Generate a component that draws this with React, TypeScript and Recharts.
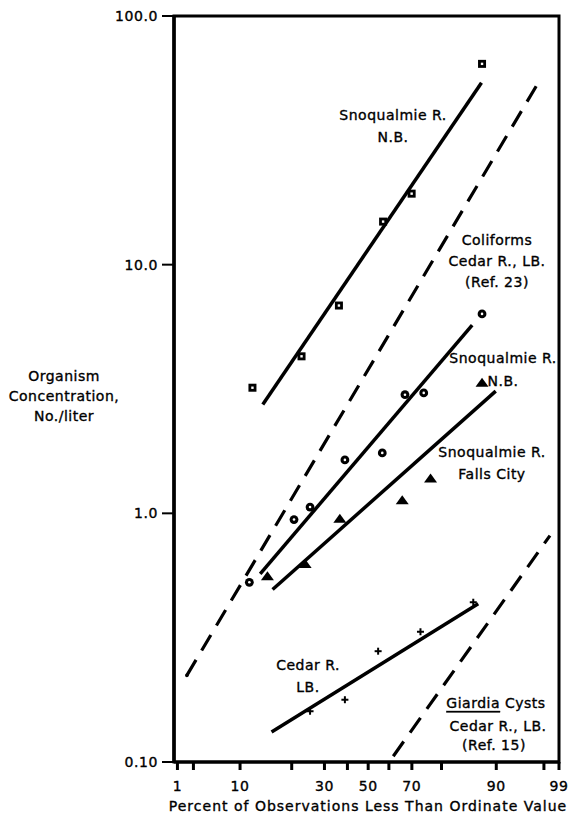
import React from 'react';
import { ComposedChart, Line, Scatter, XAxis, YAxis, ReferenceArea } from 'recharts';

// probability paper: percent ticks and where they sit along the axis (0..100 units)
const PROB_TICKS = [1, 2, 10, 20, 30, 40, 50, 60, 70, 80, 90, 98, 99];
const PROB_AXIS_POS = [0, 4.19, 16.41, 29.95, 38.53, 44.55, 49.99, 55.42, 61.44, 69.21, 83.56, 96.05, 100];
const PROB_LABELED = [1, 10, 30, 50, 70, 90, 99];

const CONC_TICKS = [0.1, 1, 10, 100];
const CONC_LABELS = ['0.10', '1.0', '10.0', '100.0'];

// Snoqualmie R. N.B. (squares)
const SQUARE_PCT = [12.4, 23.0, 36.3, 57.2, 69.9, 87.4];
const SQUARE_CONC = [3.2, 4.28, 6.85, 14.9, 19.3, 64.2];
const SQUARE_FIT_PCT = [14.4, 87.3];
const SQUARE_FIT_CONC = [2.74, 53.9];

// Snoqualmie R. N.B. (circles)
const CIRCLE_PCT = [11.8, 20.7, 25.6, 38.9, 56.8, 67.0, 74.0, 87.4];
const CIRCLE_CONC = [0.528, 0.944, 1.06, 1.64, 1.75, 3.0, 3.05, 6.34];
const CIRCLE_FIT_PCT = [13.9, 85.6];
const CIRCLE_FIT_CONC = [0.571, 5.71];

// Snoqualmie R. Falls City (triangles)
const TRIANGLE_PCT = [15.3, 24.1, 36.7, 65.8, 76.3, 87.4];
const TRIANGLE_CONC = [0.558, 0.626, 0.95, 1.13, 1.38, 3.35];
const TRIANGLE_FIT_PCT = [16.3, 89.9];
const TRIANGLE_FIT_CONC = [0.494, 3.1];

// Cedar R. LB. (crosses)
const CROSS_PCT = [25.6, 38.9, 54.8, 72.9, 85.8];
const CROSS_CONC = [0.16, 0.178, 0.279, 0.334, 0.439];
const CROSS_FIT_PCT = [16.1, 86.7];
const CROSS_FIT_CONC = [0.132, 0.433];

// dashed reference lines
const COLIFORM_PCT = [1.59, 96.7];
const COLIFORM_CONC = [0.223, 52.2];
const GIARDIA_PCT = [61.9, 98.4];
const GIARDIA_CONC = [0.1055, 0.814];

const FONT = '"DejaVu Sans", Verdana, sans-serif';

const probToAxis = (p: number) => {
  for (let i = 0; i < PROB_TICKS.length - 1; i++) {
    const a = PROB_TICKS[i];
    const b = PROB_TICKS[i + 1];
    if (p <= b || i === PROB_TICKS.length - 2) {
      const t = (p - a) / (b - a);
      return PROB_AXIS_POS[i] + t * (PROB_AXIS_POS[i + 1] - PROB_AXIS_POS[i]);
    }
  }
  return 0;
};

const toRows = (pct: number[], conc: number[]) =>
  pct.map((p, i) => ({ u: probToAxis(p), v: conc[i] }));

const SquareDot = (props: any) => {
  const { cx, cy } = props;
  return (
    <g>
      <rect x={cx - 4} y={cy - 4} width={8} height={8} fill="#000" />
      <rect x={cx - 1.2} y={cy - 1.2} width={2.4} height={2.4} fill="#fff" />
    </g>
  );
};

const CircleDot = (props: any) => {
  const { cx, cy } = props;
  return (
    <g>
      <circle cx={cx} cy={cy} r={4.4} fill="#000" />
      <circle cx={cx} cy={cy} r={1.3} fill="#fff" />
    </g>
  );
};

const TriangleDot = (props: any) => {
  const { cx, cy } = props;
  return <polygon points={`${cx},${cy - 5} ${cx - 6.5},${cy + 4} ${cx + 6.5},${cy + 4}`} fill="#000" />;
};

const CrossDot = (props: any) => {
  const { cx, cy } = props;
  return (
    <g stroke="#000" strokeWidth={2}>
      <line x1={cx - 3.5} y1={cy} x2={cx + 3.5} y2={cy} />
      <line x1={cx} y1={cy - 3.5} x2={cx} y2={cy + 3.5} />
    </g>
  );
};

const StartDot = (props: any) => {
  const { cx, cy, index } = props;
  if (index !== 0) return <g key={`d${index}`} />;
  return <circle key={`d${index}`} cx={cx} cy={cy} r={1.8} fill="#000" />;
};

const XTick = (props: any) => {
  const { x, y, payload } = props;
  const i = PROB_AXIS_POS.indexOf(payload.value);
  const pct = PROB_TICKS[i];
  return (
    <g>
      <line x1={x} y1={y} x2={x} y2={y + 8} stroke="#000" strokeWidth={3} />
      {PROB_LABELED.includes(pct) && (
        <text x={x} y={y + 24} textAnchor="middle" dominantBaseline="central"
          fontFamily={FONT} fontSize={14} letterSpacing={0.6} fill="#000" stroke="#000" strokeWidth={0.35}>
          {pct}
        </text>
      )}
    </g>
  );
};

const YTick = (props: any) => {
  const { x, y, payload } = props;
  const label = CONC_LABELS[CONC_TICKS.indexOf(payload.value)];
  return (
    <text x={x} y={y} textAnchor="end" dominantBaseline="central"
      fontFamily={FONT} fontSize={14} letterSpacing={0.6} fill="#000" stroke="#000" strokeWidth={0.35}>
      {label}
    </text>
  );
};

const NOTES = [
  { x: 385, y: 107, gap: 22, lines: ['Snoqualmie R.', 'N.B.'] },
  { x: 489, y: 232, gap: 21, lines: ['Coliforms', 'Cedar R., LB.', '(Ref. 23)'] },
  { x: 495, y: 350, gap: 23, lines: ['Snoqualmie R.', 'N.B.'] },
  { x: 484, y: 444, gap: 22, lines: ['Snoqualmie R.', 'Falls City'] },
  { x: 300, y: 657, gap: 22, lines: ['Cedar R.', 'LB.'] },
];

const W = 567;
const H = 809;

export default function App() {
  return (
    <div style={{ padding: '8px 0 0 8px' }}>
      <style>{'body{margin:0}'}</style>
      <div style={{ position: 'relative', width: W, height: H }}>
        <ComposedChart width={W} height={H} margin={{ top: 8, right: 16, bottom: 0, left: 0 }}>
          <XAxis
            type="number"
            dataKey="u"
            domain={[-0.9, 100]}
            ticks={PROB_AXIS_POS}
            interval={0}
            tickSize={0}
            tickMargin={0}
            tickLine={false}
            tick={<XTick />}
            height={55}
            allowDataOverflow
            axisLine={{ stroke: '#000', strokeWidth: 3 }}
          />
          <YAxis
            type="number"
            dataKey="v"
            scale="log"
            domain={[0.1, 100]}
            ticks={CONC_TICKS}
            interval={0}
            width={166}
            tickSize={12}
            tickMargin={4}
            tick={<YTick />}
            tickLine={{ stroke: '#000', strokeWidth: 2 }}
            allowDataOverflow
            axisLine={{ stroke: '#000', strokeWidth: 3.5 }}
          />
          <ReferenceArea x1={-0.9} x2={100} y1={0.1} y2={100} fill="none" stroke="#000" strokeWidth={3} ifOverflow="visible" />

          <Line data={toRows(COLIFORM_PCT, COLIFORM_CONC)} dataKey="v" type="linear" stroke="#000" strokeWidth={3.2}
            strokeDasharray="18 11" dot={<StartDot />} activeDot={false} isAnimationActive={false} />
          <Line data={toRows(GIARDIA_PCT, GIARDIA_CONC)} dataKey="v" type="linear" stroke="#000" strokeWidth={3.2}
            strokeDasharray="18 11" dot={false} activeDot={false} isAnimationActive={false} />

          <Line data={toRows(SQUARE_FIT_PCT, SQUARE_FIT_CONC)} dataKey="v" type="linear" stroke="#000" strokeWidth={3.5}
            dot={false} activeDot={false} isAnimationActive={false} />
          <Line data={toRows(CIRCLE_FIT_PCT, CIRCLE_FIT_CONC)} dataKey="v" type="linear" stroke="#000" strokeWidth={3.5}
            dot={false} activeDot={false} isAnimationActive={false} />
          <Line data={toRows(TRIANGLE_FIT_PCT, TRIANGLE_FIT_CONC)} dataKey="v" type="linear" stroke="#000" strokeWidth={3.5}
            dot={false} activeDot={false} isAnimationActive={false} />
          <Line data={toRows(CROSS_FIT_PCT, CROSS_FIT_CONC)} dataKey="v" type="linear" stroke="#000" strokeWidth={3.5}
            dot={false} activeDot={false} isAnimationActive={false} />

          <Scatter data={toRows(SQUARE_PCT, SQUARE_CONC)} dataKey="v" shape={<SquareDot />} isAnimationActive={false} />
          <Scatter data={toRows(CIRCLE_PCT, CIRCLE_CONC)} dataKey="v" shape={<CircleDot />} isAnimationActive={false} />
          <Scatter data={toRows(TRIANGLE_PCT, TRIANGLE_CONC)} dataKey="v" shape={<TriangleDot />} isAnimationActive={false} />
          <Scatter data={toRows(CROSS_PCT, CROSS_CONC)} dataKey="v" shape={<CrossDot />} isAnimationActive={false} />
        </ComposedChart>

        <svg width={W} height={H} style={{ position: 'absolute', left: 0, top: 0, pointerEvents: 'none' }}>
          <g fontFamily={FONT} fontSize={14} letterSpacing={0.5} fill="#000" stroke="#000" strokeWidth={0.35}
            textAnchor="middle" dominantBaseline="central">
            {NOTES.map((n, k) =>
              n.lines.map((line, i) => (
                <text key={`${k}-${i}`} x={n.x} y={n.y + i * n.gap}>{line}</text>
              ))
            )}
            <text x={488} y={695}>
              <tspan textDecoration="underline">Giardia</tspan> Cysts
            </text>
            <text x={490} y={718}>Cedar R., LB.</text>
            <text x={486} y={737}>(Ref. 15)</text>

            <text x={56} y={368}>Organism</text>
            <text x={56} y={388}>Concentration,</text>
            <text x={56} y={408}>No./liter</text>

            <text x={360} y={798} letterSpacing={1}>Percent of Observations Less Than Ordinate Value</text>
          </g>
        </svg>
      </div>
    </div>
  );
}
